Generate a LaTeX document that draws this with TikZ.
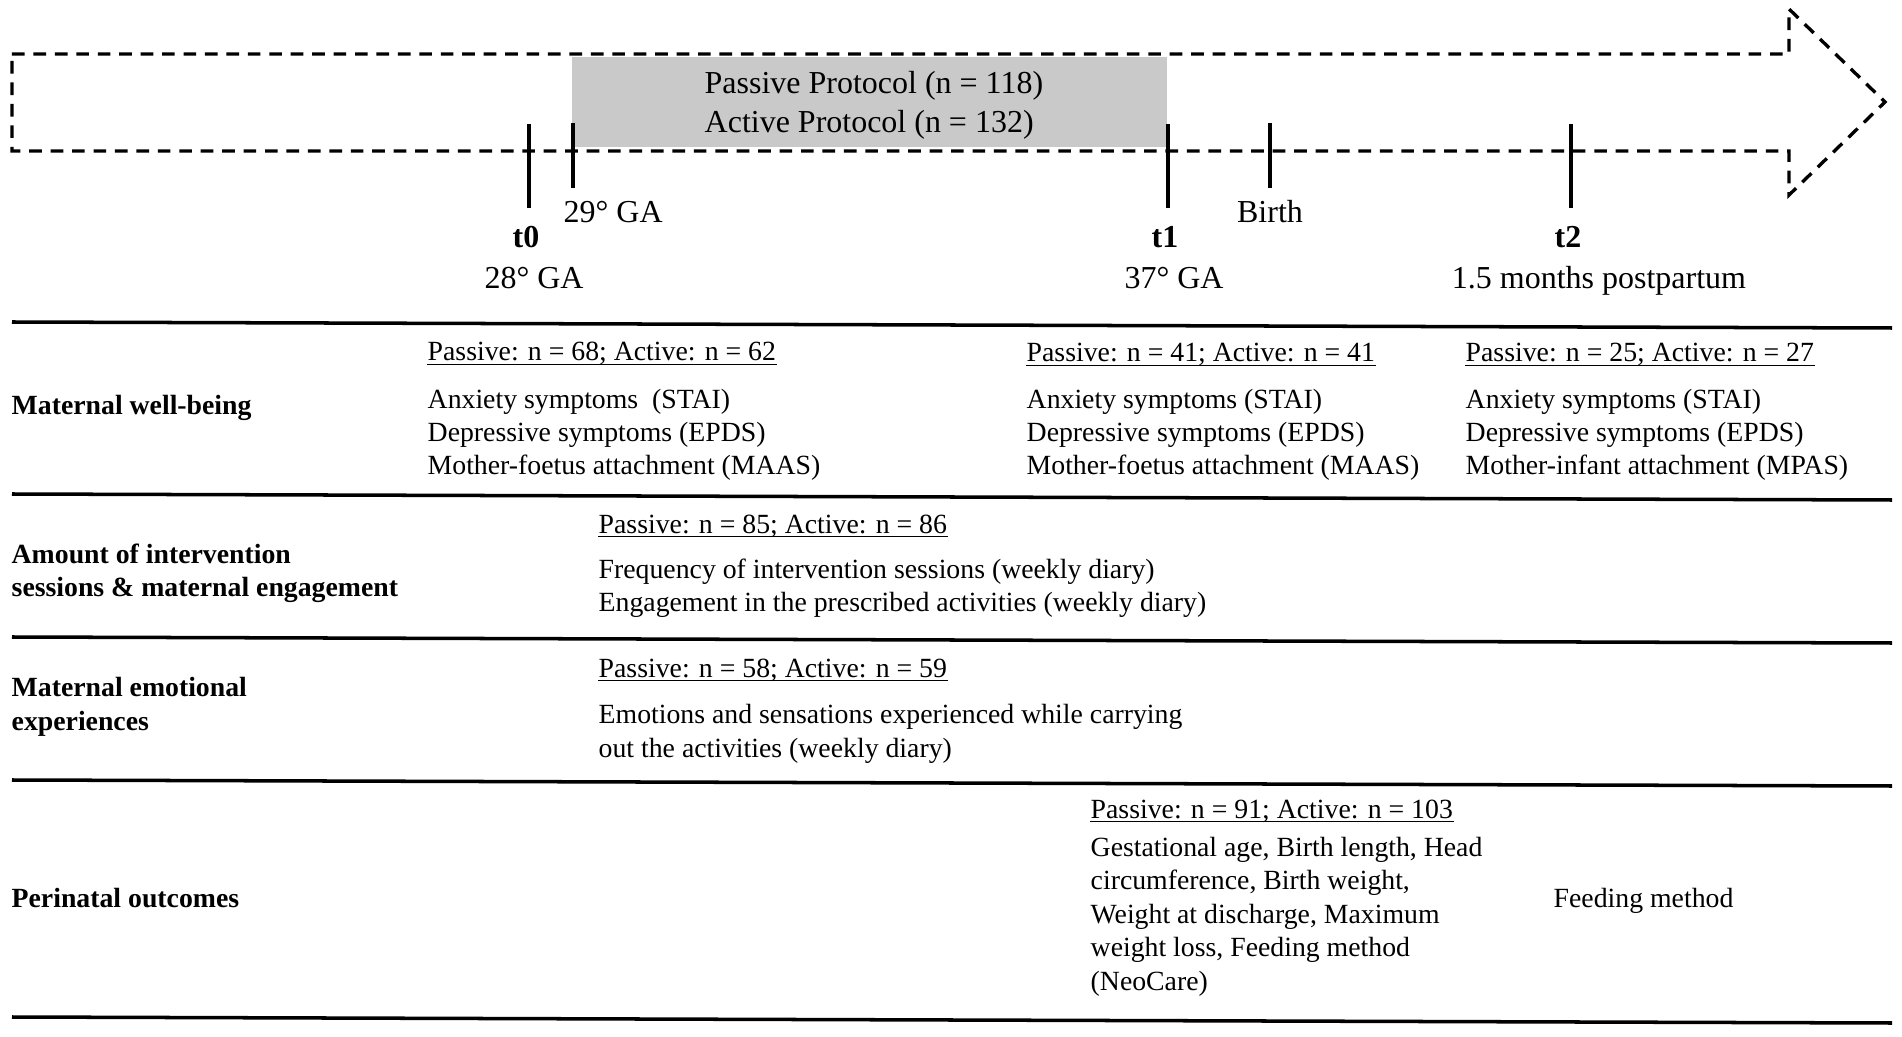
\documentclass[tikz,border=0pt]{standalone}
\usepackage{fontspec}
\setmainfont{Liberation Serif}
\tikzset{
  txt/.style={font=\fontsize{7.9}{9.5}\selectfont, inner sep=0pt, align=left, anchor=base west},
  bold/.style={txt, font=\fontsize{7.9}{9.5}\selectfont\bfseries},
  lbl/.style={font=\fontsize{9.1}{11.1}\selectfont, inner sep=0pt, anchor=base},
  arrowline/.style={line width=0.95pt, dash pattern=on 3.6pt off 2.5pt},
  tick/.style={line width=1pt},
  rule/.style={line width=1pt},
  uline/.style={line width=0.5pt},
}
\begin{document}
\begin{tikzpicture}
\useasboundingbox (0,0) rectangle (19.02,-10.37);

% timeline
\fill[black!21] (5.72,-0.57) rectangle (11.67,-1.47);
\draw[arrowline] (0.12,-0.54) -- (17.89,-0.54) -- (17.89,-0.09) -- (18.85,-1.02)
      -- (17.89,-1.95) -- (17.89,-1.51) -- (0.12,-1.51) -- cycle;
% multi-line nodes: base = last line
\node[lbl, anchor=base west, align=left] (prot) at (7.04,-1.33) {Passive Protocol (n = 118)\\Active Protocol (n = 132)};

\draw[tick] (5.29,-1.24) -- (5.29,-2.08);
\draw[tick] (5.73,-1.23) -- (5.73,-1.88);
\draw[tick] (11.68,-1.24) -- (11.68,-2.08);
\draw[tick] (12.70,-1.23) -- (12.70,-1.88);
\draw[tick] (15.71,-1.24) -- (15.71,-2.08);

\node[lbl, font=\fontsize{9.1}{11.1}\selectfont\bfseries] (t0) at (5.26,-2.48) {t0};
\node[lbl] (ga28) at (5.34,-2.89) {28° GA};
\node[lbl, anchor=base west] (ga29) at (5.63,-2.23) {29° GA};
\node[lbl, font=\fontsize{9.1}{11.1}\selectfont\bfseries] (t1) at (11.65,-2.48) {t1};
\node[lbl] (ga37) at (11.74,-2.89) {37° GA};
\node[lbl] (birth) at (12.70,-2.23) {Birth};
\node[lbl, font=\fontsize{9.1}{11.1}\selectfont\bfseries] (t2) at (15.68,-2.48) {t2};
\node[lbl] (pp) at (15.99,-2.89) {1.5 months postpartum};

% table rules
\draw[rule] (0.12,-3.22) -- (18.92,-3.28);
\draw[rule] (0.12,-4.94) -- (18.92,-5.00);
\draw[rule] (0.12,-6.37) -- (18.92,-6.43);
\draw[rule] (0.12,-7.80) -- (18.92,-7.86);
\draw[rule] (0.12,-10.17) -- (18.92,-10.23);

% row labels
\node[bold] (wb) at (0.11,-4.15) {Maternal well-being};
\node[bold] (amt) at (0.11,-5.97) {Amount of intervention\\sessions \& maternal engagement};
\node[bold] (emo) at (0.11,-7.30) {Maternal emotional\\experiences};
\node[bold] (peri) at (0.11,-9.07) {Perinatal outcomes};

% maternal well-being
\node[txt] (hA) at (4.27,-3.61) {Passive: n = 68; Active: n = 62};
\node[txt] (iA) at (4.27,-4.75) {Anxiety symptoms\ \ (STAI)\\Depressive symptoms (EPDS)\\Mother-foetus attachment (MAAS)};
\node[txt] (hB) at (10.26,-3.62) {Passive: n = 41; Active: n = 41};
\node[txt] (iB) at (10.26,-4.75) {Anxiety symptoms (STAI)\\Depressive symptoms (EPDS)\\Mother-foetus attachment (MAAS)};
\node[txt] (hC) at (14.65,-3.62) {Passive: n = 25; Active: n = 27};
\node[txt] (iC) at (14.65,-4.75) {Anxiety symptoms (STAI)\\Depressive symptoms (EPDS)\\Mother-infant attachment (MPAS)};

% sessions, emotions
\node[txt] (hD) at (5.98,-5.33) {Passive: n = 85; Active: n = 86};
\node[txt] (iD) at (5.98,-6.12) {Frequency of intervention sessions (weekly diary)\\Engagement in the prescribed activities (weekly diary)};
\node[txt] (hE) at (5.98,-6.77) {Passive: n = 58; Active: n = 59};
\node[txt] (iE) at (5.98,-7.57) {Emotions and sensations experienced while carrying\\out the activities (weekly diary)};

% perinatal outcomes
\node[txt] (hF) at (10.90,-8.18) {Passive: n = 91; Active: n = 103};
\node[txt] (iF) at (10.90,-9.90) {Gestational age, Birth length, Head\\circumference, Birth weight,\\Weight at discharge, Maximum\\weight loss, Feeding method\\(NeoCare)};
\node[txt] (feed) at (15.53,-9.07) {Feeding method};

\foreach \h in {hA,hB,hC,hD,hE,hF}
  \draw[uline] ([yshift=-1pt]\h.base west) -- ([yshift=-1pt]\h.base east);
\end{tikzpicture}
\end{document}
